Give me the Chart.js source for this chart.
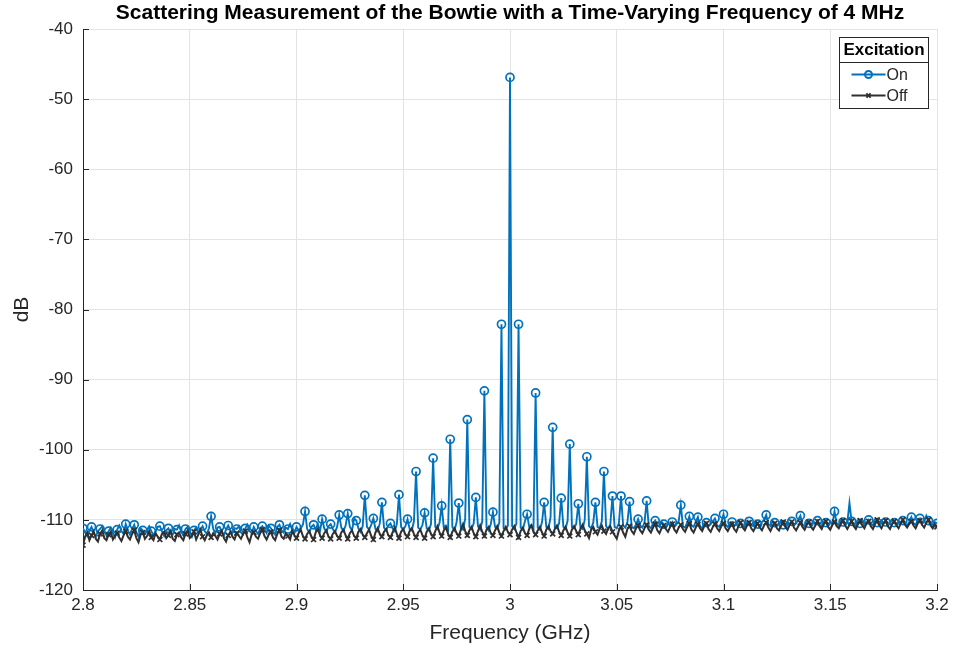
<!DOCTYPE html>
<html>
<head>
<meta charset="utf-8">
<script src="https://cdn.jsdelivr.net/npm/chart.js@4.4.1/dist/chart.umd.min.js"></script>
<style>
  html, body { margin: 0; padding: 0; background: #fff; }
  #wrap { width: 954px; height: 650px; }
</style>
</head>
<body>
<div id="wrap"><canvas id="scatter-chart"></canvas></div>
<script>
// frequency grid: 2.800 .. 3.200 GHz, one sample per MHz
const FREQ_START = 2.8;
const FREQ_STEP = 0.001;

// excitation on (dB), 20 samples per row
const onDb = [
  -111.2,-111.8,-112.3,-111.5,-111.0,-111.9,-112.4,-111.6,-111.3,-110.9,-111.7,-112.2,-111.6,-111.1,-111.9,-112.5,-111.4,-110.8,-111.6,-112.0,
  -110.6,-111.5,-112.1,-111.3,-110.7,-111.8,-112.4,-111.2,-111.5,-112.0,-111.4,-110.9,-111.6,-112.2,-111.7,-111.0,-110.9,-111.6,-112.3,-111.5,
  -111.2,-111.9,-112.1,-111.3,-111.4,-110.8,-111.7,-112.2,-111.3,-111.0,-111.8,-112.4,-111.5,-111.1,-111.9,-111.4,-110.9,-111.6,-112.0,-111.2,
  -109.5,-111.3,-111.9,-111.1,-111.0,-111.7,-112.2,-111.4,-110.8,-111.5,-111.9,-111.2,-111.3,-110.9,-111.8,-112.1,-111.2,-110.7,-111.6,-111.9,
  -111.0,-111.6,-112.0,-111.3,-110.9,-111.4,-111.9,-110.8,-111.2,-111.7,-112.1,-111.0,-110.7,-111.5,-111.8,-111.1,-111.3,-110.6,-111.4,-111.9,
  -111.0,-111.5,-111.2,-110.7,-108.8,-111.3,-111.8,-111.0,-110.7,-111.4,-110.6,-111.6,-109.9,-111.2,-111.7,-110.9,-110.6,-111.3,-111.8,-111.0,
  -109.3,-111.1,-111.6,-110.8,-109.1,-111.0,-111.5,-109.8,-110.1,-111.2,-111.7,-110.9,-106.5,-111.0,-111.4,-110.7,-109.8,-111.3,-111.6,-110.5,
  -107.5,-111.1,-111.5,-110.8,-110.5,-111.2,-111.6,-110.6,-106.4,-111.0,-111.4,-110.9,-109.9,-111.3,-111.5,-110.2,-103.1,-111.1,-111.4,-110.7,
  -109.0,-111.2,-111.5,-110.6,-101.2,-111.0,-111.3,-110.4,-108.0,-111.1,-110.8,-111.4,-98.5,-111.0,-111.5,-110.3,-107.6,-111.2,-111.4,-109.9,
  -95.7,-111.0,-111.3,-110.5,-106.8,-110.9,-111.4,-110.2,-91.6,-111.1,-111.5,-110.6,-108.9,-111.0,-111.3,-110.4,-82.1,-111.2,-111.4,-110.8,
  -46.9,-110.9,-111.3,-110.5,-82.1,-111.1,-111.4,-110.2,-109.2,-111.0,-110.7,-111.3,-91.9,-111.1,-111.4,-110.3,-107.5,-111.0,-111.3,-109.6,
  -96.8,-111.1,-111.2,-110.5,-106.9,-111.0,-111.3,-110.1,-99.2,-111.0,-111.2,-110.6,-107.7,-111.1,-111.3,-110.0,-101.0,-110.9,-111.2,-110.4,
  -107.5,-111.0,-111.2,-110.2,-103.1,-110.9,-111.3,-110.6,-106.6,-111.0,-111.2,-110.5,-106.6,-110.8,-111.1,-110.3,-107.4,-111.0,-111.2,-110.7,
  -109.9,-110.8,-111.1,-110.4,-107.3,-110.9,-111.2,-110.5,-110.1,-110.7,-111.0,-110.3,-110.6,-111.1,-110.4,-110.8,-110.3,-111.0,-110.6,-110.2,
  -107.9,-110.9,-111.1,-110.4,-109.5,-110.8,-111.0,-110.3,-109.6,-110.9,-111.2,-110.5,-110.4,-110.9,-110.6,-110.2,-109.8,-110.8,-111.0,-110.4,
  -109.2,-110.7,-111.0,-110.5,-110.3,-110.9,-110.6,-110.1,-110.5,-110.8,-111.1,-110.3,-110.2,-110.7,-110.9,-110.4,-110.6,-110.9,-110.3,-110.0,
  -109.3,-110.6,-110.9,-110.2,-110.4,-110.8,-110.5,-110.1,-110.7,-110.9,-110.3,-110.6,-110.2,-110.8,-110.5,-110.0,-109.4,-110.7,-110.9,-110.3,
  -110.5,-110.8,-110.2,-110.6,-110.1,-110.7,-110.9,-110.3,-110.4,-110.8,-110.2,-110.6,-108.8,-110.5,-110.8,-110.1,-110.3,-110.7,-110.4,-107.6,
  -110.2,-110.6,-110.9,-110.3,-110.5,-110.1,-110.7,-110.4,-110.0,-110.6,-110.8,-110.2,-110.4,-110.7,-110.1,-110.5,-110.3,-110.8,-110.4,-110.0,
  -110.4,-110.7,-110.2,-110.6,-110.1,-110.5,-110.8,-110.3,-109.6,-110.5,-110.7,-110.0,-109.8,-110.6,-110.2,-109.4,-110.1,-110.5,-110.8,-110.3,
  -110.5
];

// excitation off (dB)
const offDb = [
  -113.6,-112.4,-111.8,-112.9,-112.2,-111.6,-112.7,-113.1,-112.0,-111.5,-112.6,-112.9,-112.1,-111.7,-112.8,-112.3,-111.9,-112.5,-113.0,-112.2,
  -111.6,-112.4,-112.8,-112.0,-111.5,-112.6,-113.2,-112.1,-111.8,-112.7,-112.3,-111.6,-112.5,-112.9,-111.9,-112.4,-112.8,-112.0,-111.7,-112.6,
  -112.2,-111.6,-112.7,-113.0,-112.1,-111.8,-112.5,-112.9,-112.0,-111.5,-112.6,-112.3,-111.7,-112.8,-112.1,-111.4,-112.4,-112.9,-112.2,-111.8,
  -112.5,-111.9,-112.3,-112.8,-112.0,-111.5,-112.6,-113.1,-112.2,-111.7,-112.4,-112.8,-111.9,-112.3,-112.7,-112.0,-111.6,-112.5,-113.2,-112.1,
  -111.8,-112.4,-112.7,-111.9,-111.4,-112.3,-112.8,-112.1,-111.7,-112.5,-112.9,-112.0,-111.5,-112.4,-112.7,-111.9,-112.3,-112.8,-111.6,-112.2,
  -112.6,-111.9,-111.4,-112.3,-112.7,-112.0,-111.6,-112.4,-112.8,-111.8,-111.3,-112.2,-112.6,-111.9,-111.5,-112.4,-112.7,-112.0,-111.6,-112.3,
  -112.6,-111.8,-111.4,-112.2,-112.7,-111.9,-111.5,-112.3,-112.6,-111.7,-111.3,-112.1,-112.5,-111.9,-111.4,-112.3,-112.8,-111.8,-111.2,-112.0,
  -112.4,-111.7,-111.3,-112.2,-112.5,-111.8,-111.1,-112.0,-112.6,-111.7,-111.3,-112.1,-112.4,-111.6,-111.2,-112.0,-112.5,-111.8,-111.4,-112.2,
  -112.6,-111.7,-111.2,-112.0,-112.4,-111.6,-110.9,-111.8,-112.3,-111.5,-111.1,-112.0,-112.5,-111.7,-111.2,-111.9,-112.3,-111.4,-110.6,-111.6,
  -112.2,-111.5,-111.0,-111.9,-112.4,-111.6,-110.8,-111.7,-112.3,-111.4,-111.0,-111.9,-112.2,-111.5,-110.9,-111.8,-112.3,-111.6,-111.0,-111.7,
  -112.1,-111.4,-110.9,-111.8,-112.5,-111.6,-111.1,-111.9,-112.2,-111.3,-110.8,-111.7,-112.1,-111.5,-111.0,-111.8,-112.3,-111.4,-110.9,-111.6,
  -112.0,-111.3,-110.8,-111.7,-112.2,-111.5,-111.0,-111.8,-112.3,-111.4,-110.9,-111.6,-112.1,-111.3,-110.7,-111.5,-112.0,-112.6,-111.4,-111.0,
  -111.7,-112.1,-111.3,-110.8,-111.6,-112.0,-111.2,-110.9,-111.7,-112.2,-112.7,-111.5,-111.0,-111.8,-112.4,-111.3,-110.9,-111.6,-112.0,-111.2,
  -110.8,-111.5,-111.9,-111.2,-110.7,-111.4,-111.8,-111.1,-110.6,-111.5,-111.9,-111.2,-110.8,-111.3,-111.7,-111.0,-110.6,-111.4,-111.8,-111.1,
  -110.7,-111.3,-111.7,-111.0,-110.5,-111.4,-111.8,-111.1,-110.6,-111.2,-111.6,-110.9,-110.5,-111.3,-111.7,-111.0,-110.6,-111.2,-111.6,-110.9,
  -110.5,-111.2,-111.6,-111.0,-110.6,-111.3,-111.7,-110.9,-110.4,-111.1,-111.5,-110.8,-110.4,-111.2,-111.6,-111.0,-110.5,-111.1,-111.5,-110.8,
  -110.4,-111.1,-111.6,-110.9,-110.5,-111.2,-111.5,-110.8,-110.3,-111.0,-111.4,-110.7,-110.3,-111.1,-111.5,-110.9,-110.4,-111.0,-111.4,-110.7,
  -110.3,-111.0,-111.4,-110.8,-110.2,-110.9,-111.3,-110.6,-110.2,-111.0,-111.4,-110.7,-110.3,-110.9,-111.2,-110.6,-110.1,-110.8,-111.3,-110.7,
  -110.2,-110.9,-111.3,-110.6,-110.1,-110.8,-111.2,-110.5,-110.2,-110.9,-111.3,-110.6,-110.0,-110.8,-111.2,-110.5,-110.1,-110.9,-111.3,-110.6,
  -110.2,-110.8,-111.2,-110.5,-110.0,-110.7,-111.1,-110.6,-110.2,-110.8,-111.2,-110.5,-110.1,-110.7,-111.1,-110.4,-110.0,-110.8,-111.2,-110.6,
  -111.0
];

const xTicks = [2.8, 2.85, 2.9, 2.95, 3.0, 3.05, 3.1, 3.15, 3.2];
const xTickLabels = ['2.8', '2.85', '2.9', '2.95', '3', '3.05', '3.1', '3.15', '3.2'];
const yTicks = [-120, -110, -100, -90, -80, -70, -60, -50, -40];
const yTickLabels = ['-120', '-110', '-100', '-90', '-80', '-70', '-60', '-50', '-40'];

const FONT = '"Liberation Sans", Arial, Helvetica, sans-serif';
const BLUE = '#0072bd';
const DARK = '#303030';
const AXIS = '#262626';

function toPoints(values) {
  return values.map((v, i) => ({ x: FREQ_START + i * FREQ_STEP, y: v }));
}

// markers only on every 4th sample (4 MHz harmonics)
function markerRadius(r) {
  return ctx => (ctx.dataIndex % 4 === 0 ? r : 0);
}

// MATLAB style ticks pointing into the plot
const innerTicks = {
  id: 'innerTicks',
  afterDatasetsDraw(chart) {
    const { ctx, chartArea: a, scales } = chart;
    ctx.save();
    ctx.strokeStyle = AXIS;
    ctx.lineWidth = 1;
    ctx.beginPath();
    yTicks.forEach(v => {
      const y = Math.round(scales.y.getPixelForValue(v)) + 0.5;
      ctx.moveTo(a.left, y);
      ctx.lineTo(a.left + 6, y);
    });
    xTicks.forEach(v => {
      const x = Math.round(scales.x.getPixelForValue(v)) + 0.5;
      ctx.moveTo(x, a.bottom);
      ctx.lineTo(x, a.bottom - 6);
    });
    ctx.stroke();
    ctx.restore();
  }
};

// legend box with title, drawn inside the plot (top right)
const insideLegend = {
  id: 'insideLegend',
  afterDraw(chart) {
    const { ctx, chartArea: a } = chart;
    const w = 89, h = 71;
    const x0 = Math.round(a.right - 9 - w) + 0.5;
    const y0 = Math.round(a.top + 8) + 0.5;
    ctx.save();
    ctx.fillStyle = '#fff';
    ctx.fillRect(x0, y0, w, h);
    ctx.strokeStyle = AXIS;
    ctx.lineWidth = 1;
    ctx.strokeRect(x0, y0, w, h);
    ctx.beginPath();
    ctx.moveTo(x0, y0 + 25);
    ctx.lineTo(x0 + w, y0 + 25);
    ctx.stroke();

    ctx.fillStyle = '#000';
    ctx.textBaseline = 'middle';
    ctx.textAlign = 'center';
    ctx.font = 'bold 17px ' + FONT;
    ctx.fillText('Excitation', x0 + w / 2, y0 + 13);

    ctx.textAlign = 'left';
    ctx.font = '16px ' + FONT;
    const rows = [
      { ds: chart.data.datasets[0], y: y0 + 37 },
      { ds: chart.data.datasets[1], y: y0 + 58 }
    ];
    rows.forEach(({ ds, y }) => {
      const lx0 = x0 + 12, lx1 = x0 + 46, mx = x0 + 29;
      ctx.strokeStyle = ds.borderColor;
      ctx.lineWidth = 2;
      ctx.beginPath();
      ctx.moveTo(lx0, y);
      ctx.lineTo(lx1, y);
      ctx.stroke();
      ctx.fillStyle = 'rgba(0,0,0,0)';
      Chart.helpers.drawPoint(ctx, {
        pointStyle: ds.pointStyle,
        radius: ds.pointStyle === 'circle' ? 3.5 : 3,
        borderWidth: 1.6
      }, mx, y);
      ctx.fillStyle = AXIS;
      ctx.fillText(ds.label, lx1 + 1, y + 1);
    });
    ctx.restore();
  }
};

new Chart(document.getElementById('scatter-chart'), {
  type: 'line',
  data: {
    datasets: [
      {
        label: 'On',
        data: toPoints(onDb),
        borderColor: BLUE,
        borderWidth: 1.9,
        pointStyle: 'circle',
        pointRadius: markerRadius(4),
        pointBorderWidth: 1.7,
        pointBorderColor: BLUE,
        pointBackgroundColor: 'rgba(0,0,0,0)',
        order: 2
      },
      {
        label: 'Off',
        data: toPoints(offDb),
        borderColor: DARK,
        borderWidth: 2,
        pointStyle: 'crossRot',
        pointRadius: markerRadius(3.5),
        pointBorderWidth: 1.7,
        pointBorderColor: DARK,
        pointBackgroundColor: DARK,
        order: 1
      }
    ]
  },
  options: {
    responsive: true,
    maintainAspectRatio: false,
    animation: false,
    events: [],
    layout: { padding: { left: 0, right: 17, top: 0, bottom: 0 } },
    elements: { line: { tension: 0 } },
    plugins: {
      legend: { display: false },
      tooltip: { enabled: false },
      title: {
        display: true,
        fullSize: false,
        text: 'Scattering Measurement of the Bowtie with a Time-Varying Frequency of 4 MHz',
        color: '#000',
        font: { family: FONT, size: 21, weight: 'bold' },
        padding: { top: 1, bottom: 2.8 }
      }
    },
    scales: {
      x: {
        type: 'linear',
        min: 2.8,
        max: 3.2,
        afterBuildTicks: s => { s.ticks = xTicks.map(v => ({ value: v })); },
        afterFit: s => { s.height = 60; },
        ticks: {
          color: AXIS,
          font: { family: FONT, size: 17 },
          padding: 5,
          maxRotation: 0,
          autoSkip: false,
          callback: (v, i) => xTickLabels[i]
        },
        grid: { color: '#e3e3e3', drawTicks: false },
        border: { color: AXIS, width: 1 },
        title: {
          display: true,
          text: 'Frequency (GHz)',
          color: AXIS,
          font: { family: FONT, size: 21 },
          padding: { top: 0, bottom: 4.4 }
        }
      },
      y: {
        min: -120,
        max: -40,
        afterBuildTicks: s => { s.ticks = yTicks.map(v => ({ value: v })); },
        afterFit: s => { s.width = 83; },
        ticks: {
          color: AXIS,
          font: { family: FONT, size: 17 },
          padding: 10,
          autoSkip: false,
          callback: (v, i) => yTickLabels[i]
        },
        grid: { color: '#e3e3e3', drawTicks: false },
        border: { color: AXIS, width: 1 },
        title: {
          display: true,
          text: 'dB',
          color: AXIS,
          font: { family: FONT, size: 21 },
          padding: { top: 9.5, bottom: 0 }
        }
      }
    }
  },
  plugins: [innerTicks, insideLegend]
});
</script>
</body>
</html>
